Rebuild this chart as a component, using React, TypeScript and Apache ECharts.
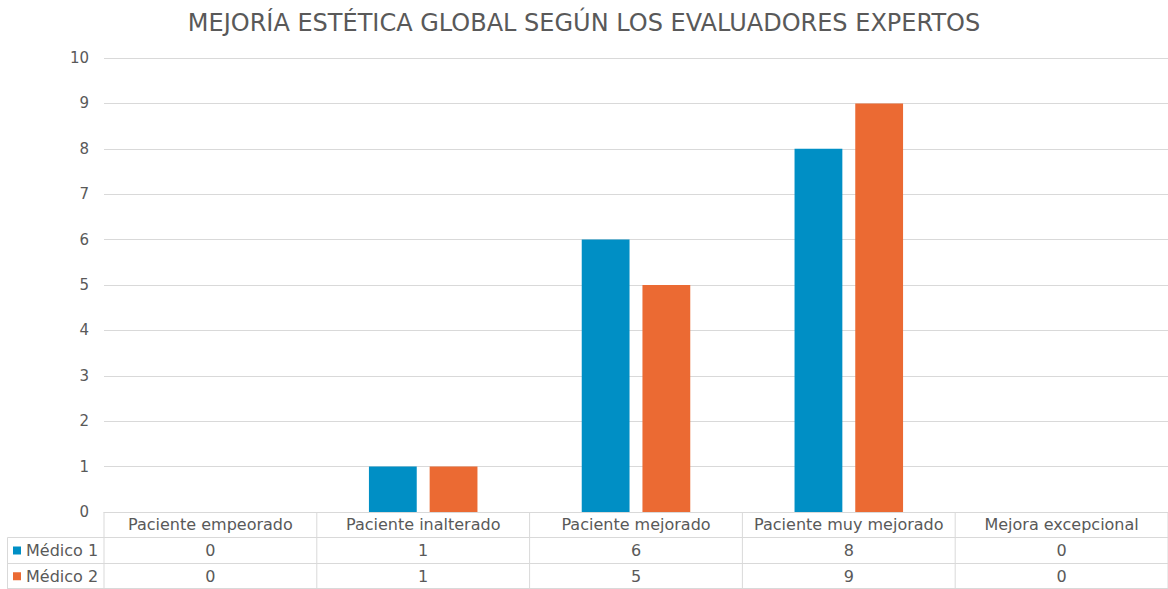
import React, { useEffect, useRef } from "react";
import * as echarts from "echarts";

const categories = [
  "Paciente empeorado",
  "Paciente inalterado",
  "Paciente mejorado",
  "Paciente muy mejorado",
  "Mejora excepcional",
];
const seriesNames = ["Médico 1", "Médico 2"];
const medico1 = [0, 1, 6, 8, 0];
const medico2 = [0, 1, 5, 9, 0];
const seriesValues = [medico1, medico2];
const colors = ["#008FC5", "#EB6A33"];
const yTicks = [0, 1, 2, 3, 4, 5, 6, 7, 8, 9, 10];

const FONT = "'DejaVu Sans', sans-serif";
const TEXT = "#595959";
const LINE = "#D9D9D9";

export default function App() {
  const ref = useRef<HTMLDivElement>(null);
  useEffect(() => {
    if (!ref.current) return;
    const chart = echarts.init(ref.current, null, { renderer: "svg" });
    const gridTop = 58;
    const gridBottomY = 512;
    chart.setOption({
      animation: false,
      backgroundColor: "#fff",
      textStyle: { fontFamily: FONT },
      title: {
        text: "MEJORÍA ESTÉTICA GLOBAL SEGÚN LOS EVALUADORES EXPERTOS",
        left: "center",
        top: 6,
        textStyle: { fontFamily: FONT, fontSize: 24, fontWeight: "normal", color: TEXT },
      },
      grid: { left: 104, right: 0, top: gridTop, bottom: 589 - gridBottomY, containLabel: false },
      xAxis: {
        type: "category",
        data: categories,
        axisLine: { show: true, lineStyle: { color: LINE } },
        axisTick: { show: false },
        axisLabel: { show: false },
      },
      yAxis: {
        type: "value",
        min: yTicks[0],
        max: yTicks[yTicks.length - 1],
        interval: 1,
        axisLine: { show: false },
        axisTick: { show: false },
        axisLabel: { color: TEXT, fontSize: 15, margin: 15, fontFamily: FONT },
        splitLine: { lineStyle: { color: LINE } },
      },
      series: seriesNames.map((name, i) => ({
        name,
        type: "bar",
        data: seriesValues[i],
        itemStyle: { color: colors[i] },
        barGap: "27%",
        barCategoryGap: "49%",
      })),
    });

    const centers = categories.map((_, i) => chart.convertToPixel({ xAxisIndex: 0 }, i) as number);
    const band = centers.length > 1 ? centers[1] - centers[0] : 200;
    const bounds = [centers[0] - band / 2, ...centers.map((c) => c + band / 2)];
    const rowY = [gridBottomY, 537.5, 563.5, 589];
    const leftX = 7.5;
    const rightX = bounds[bounds.length - 1];
    const elements: any[] = [];
    const lineStyle = { stroke: LINE, lineWidth: 1 };
    bounds.forEach((bx) => {
      elements.push({ type: "line", shape: { x1: bx, y1: rowY[0], x2: bx, y2: rowY[3] }, style: lineStyle, silent: true });
    });
    elements.push({ type: "line", shape: { x1: leftX, y1: rowY[1], x2: leftX, y2: rowY[3] }, style: lineStyle });
    [rowY[1], rowY[2], rowY[3] - 0.5].forEach((y) => {
      elements.push({ type: "line", shape: { x1: leftX, y1: y, x2: rightX, y2: y }, style: lineStyle });
    });
    categories.forEach((c, i) => {
      elements.push({
        type: "text",
        x: centers[i],
        y: (rowY[0] + rowY[1]) / 2,
        style: { text: c, fill: TEXT, font: `16px ${FONT}`, textAlign: "center", textVerticalAlign: "middle" },
      });
      seriesValues.forEach((vals, s) => {
        elements.push({
          type: "text",
          x: centers[i],
          y: (rowY[s + 1] + rowY[s + 2]) / 2,
          style: { text: String(vals[i]), fill: TEXT, font: `16px ${FONT}`, textAlign: "center", textVerticalAlign: "middle" },
        });
      });
    });
    seriesNames.forEach((n, s) => {
      const cy = (rowY[s + 1] + rowY[s + 2]) / 2;
      elements.push({ type: "rect", shape: { x: 13, y: cy - 4, width: 8, height: 8 }, style: { fill: colors[s] } });
      elements.push({
        type: "text",
        x: 26,
        y: cy,
        style: { text: n, fill: TEXT, font: `16px ${FONT}`, textAlign: "left", textVerticalAlign: "middle" },
      });
    });
    chart.setOption({ graphic: { elements } });

    return () => chart.dispose();
  }, []);
  return <div ref={ref} style={{ position: "fixed", left: 0, top: 0, width: 1168, height: 589 }} />;
}
